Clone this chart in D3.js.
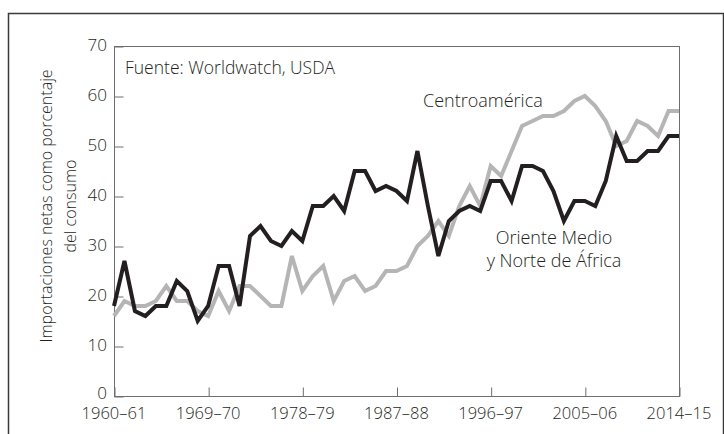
<!DOCTYPE html>
<html>
<head>
<meta charset="utf-8">
<script src="https://cdn.jsdelivr.net/npm/d3@7"></script>
<style>
  body { margin: 0; background: #fff; }
  svg text { font-family: "Open Sans", sans-serif; font-weight: 300; fill: #231f20; }
</style>
</head>
<body>
<div id="chart"></div>
<script>
// campañas 1960–61 ... 2014–15
var seasons = d3.range(1960, 2015).map(function(y) {
    return y + '–' + String((y + 1) % 100).padStart(2, '0');
});

var tick_labels = ['1960–61', '1969–70', '1978–79', '1987–88', '1996–97', '2005–06', '2014–15'];
var y_ticks = [0, 10, 20, 30, 40, 50, 60, 70];

var centroamerica = [16, 19, 18, 18, 19, 22, 19, 19, 17, 16,
                     21, 17, 22, 22, 20, 18, 18, 28, 21, 24,
                     26, 19, 23, 24, 21, 22, 25, 25, 26, 30,
                     32, 35, 32, 38, 42, 38, 46, 44, 49, 54,
                     55, 56, 56, 57, 59, 60, 58, 55, 50, 51,
                     55, 54, 52, 57, 57];

var oriente_medio = [18, 27, 17, 16, 18, 18, 23, 21, 15, 18,
                     26, 26, 18, 32, 34, 31, 30, 33, 31, 38,
                     38, 40, 37, 45, 45, 41, 42, 41, 39, 49,
                     38, 28, 35, 37, 38, 37, 43, 43, 39, 46,
                     46, 45, 41, 35, 39, 39, 38, 43, 52, 47,
                     47, 49, 49, 52, 52];

var width = 724, height = 434;
var plot = { left: 114, right: 679, top: 46, bottom: 396 };

var svg = d3.select('#chart').append('svg')
    .attr('width', width)
    .attr('height', height);

// marco exterior
svg.append('rect')
    .attr('x', 8.5).attr('y', 13.5)
    .attr('width', 715).attr('height', 440)
    .attr('fill', 'none')
    .attr('stroke', '#3a3a3a')
    .attr('stroke-width', 1.5);

var x = d3.scaleLinear()
    .domain([0, seasons.length - 1])
    .range([plot.left, plot.right]);

var y = d3.scaleLinear()
    .domain([0, 70])
    .range([plot.bottom, plot.top]);

// caja del grafico
svg.append('rect')
    .attr('x', plot.left + 0.5).attr('y', plot.top + 0.5)
    .attr('width', plot.right - plot.left).attr('height', plot.bottom - plot.top)
    .attr('fill', 'none')
    .attr('stroke', '#6d6e71')
    .attr('stroke-width', 1);

var yaxis = svg.append('g')
    .attr('transform', `translate(${plot.left + 0.5}, 0.5)`)
    .call(d3.axisRight(y).tickValues(y_ticks).tickSize(9).tickFormat(''));
yaxis.select('.domain').remove();
yaxis.selectAll('line').attr('stroke', '#6d6e71');

svg.append('g').selectAll('text').data(y_ticks).enter()
    .append('text')
    .attr('x', 107)
    .attr('y', function(d) { return y(d) - (d === 0 ? 3 : 1); })
    .attr('dy', '0.36em')
    .attr('text-anchor', 'end')
    .style('font-size', '17px')
    .text(function(d) { return d; });

var xaxis = svg.append('g')
    .attr('transform', `translate(0.5, ${plot.bottom + 0.5})`)
    .call(d3.axisTop(x)
        .tickValues(tick_labels.map(function(t) { return seasons.indexOf(t); }))
        .tickSize(9)
        .tickFormat(''));
xaxis.select('.domain').remove();
xaxis.selectAll('line').attr('stroke', '#6d6e71');

svg.append('g').selectAll('text').data(tick_labels).enter()
    .append('text')
    .attr('x', function(d) { return x(seasons.indexOf(d)); })
    .attr('y', 419)
    .attr('text-anchor', 'middle')
    .style('font-size', '16.5px')
    .text(function(d) { return d; });

var line = d3.line()
    .x(function(d, i) { return x(i); })
    .y(function(d) { return y(d); });

svg.append('path')
    .datum(centroamerica)
    .attr('d', line)
    .attr('fill', 'none')
    .attr('stroke', '#b5b5b5')
    .attr('stroke-width', 4);

svg.append('path')
    .datum(oriente_medio)
    .attr('d', line)
    .attr('fill', 'none')
    .attr('stroke', '#231f20')
    .attr('stroke-width', 4);

// titulo del eje y
var ytitle = svg.append('text')
    .attr('transform', 'translate(52, 206) rotate(-90)')
    .attr('text-anchor', 'middle')
    .style('font-size', '16px');
ytitle.append('tspan').attr('x', 0).attr('y', 0).text('Importaciones netas como porcentaje');
ytitle.append('tspan').attr('x', 0).attr('y', 24).text('del consumo');

svg.append('text')
    .attr('x', 125).attr('y', 74)
    .style('font-size', '17.5px')
    .text('Fuente: Worldwatch, USDA');

svg.append('text')
    .attr('x', 423).attr('y', 107)
    .style('font-size', '18px')
    .text('Centroamérica');

var om = svg.append('text')
    .attr('text-anchor', 'middle')
    .style('font-size', '18px');
om.append('tspan').attr('x', 554).attr('y', 244).text('Oriente Medio');
om.append('tspan').attr('x', 554).attr('y', 267).text('y Norte de África');
</script>
</body>
</html>
